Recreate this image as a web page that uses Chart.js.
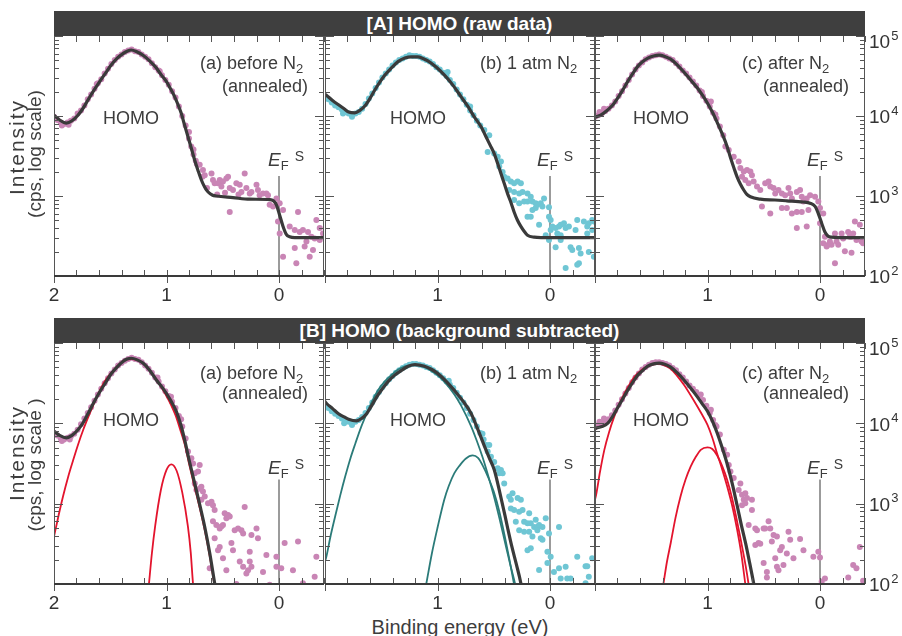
<!DOCTYPE html>
<html lang="en">
<head>
<meta charset="UTF-8" />
<title>HOMO spectra</title>
<script src="https://cdn.jsdelivr.net/npm/chart.js"></script>
<style>
  body { margin: 0; background: #fff; font-family: "Liberation Sans", Arial, sans-serif; color: #3d3d3d; }
  #page { position: relative; width: 902px; height: 636px; overflow: hidden; }
  canvas { position: absolute; }
  .bar { position: absolute; left: 54px; width: 811px; height: 25px; background: #3f3f3f; color: #fff;
         font-weight: bold; font-size: 19px; line-height: 25px; text-align: center; }
  .note { position: absolute; font-size: 18px; line-height: 20px; white-space: nowrap; }
  .note sub { font-size: 13px; vertical-align: -4px; line-height: 0; }
  .ef { position: absolute; font-size: 19px; line-height: 20px; white-space: nowrap; }
  .ef sub { font-size: 13px; vertical-align: -4px; line-height: 0; }
  .ef sup { font-size: 14px; vertical-align: 5px; line-height: 0; margin-left: 6px; }
  .ytitle { position: absolute; width: 200px; height: 22px; line-height: 22px; font-size: 19px;
            text-align: center; transform: rotate(-90deg); white-space: nowrap; }
  .wide { font-size: 21px; letter-spacing: 2px; }
  .xtitle { position: absolute; left: 0; width: 920px; text-align: center; font-size: 20px; line-height: 22px; }
</style>
</head>
<body>
<div id="page">
  <div class="bar" style="top:11px">[A] HOMO (raw data)</div>
  <div class="bar" style="top:318px">[B] HOMO (background subtracted)</div>

  <div class="ytitle wide" style="left:-83px; top:136px">Intensity</div>
  <div class="ytitle" style="left:-65px; top:143px">(cps, log scale)</div>
  <div class="ytitle wide" style="left:-83px; top:442px">Intensity</div>
  <div class="ytitle" style="left:-65px; top:454px">(cps, log scale )</div>

  <div class="note" style="left:200px; top:53px">(a) before N<sub>2</sub></div>
  <div class="note" style="left:222px; top:76px">(annealed)</div>
  <div class="note" style="left:103px; top:108px">HOMO</div>
  <div class="note" style="left:480px; top:53px">(b) 1 atm N<sub>2</sub></div>
  <div class="note" style="left:390px; top:108px">HOMO</div>
  <div class="note" style="left:742px; top:53px">(c) after N<sub>2</sub></div>
  <div class="note" style="left:763px; top:76px">(annealed)</div>
  <div class="note" style="left:633px; top:108px">HOMO</div>

  <div class="note" style="left:200px; top:363px">(a) before N<sub>2</sub></div>
  <div class="note" style="left:222px; top:383px">(annealed)</div>
  <div class="note" style="left:103px; top:410px">HOMO</div>
  <div class="note" style="left:480px; top:363px">(b) 1 atm N<sub>2</sub></div>
  <div class="note" style="left:390px; top:410px">HOMO</div>
  <div class="note" style="left:742px; top:363px">(c) after N<sub>2</sub></div>
  <div class="note" style="left:763px; top:383px">(annealed)</div>
  <div class="note" style="left:633px; top:410px">HOMO</div>

  <div class="ef" style="left:268px; top:150px"><i>E</i><sub>F</sub><sup>S</sup></div>
  <div class="ef" style="left:537px; top:150px"><i>E</i><sub>F</sub><sup>S</sup></div>
  <div class="ef" style="left:807px; top:150px"><i>E</i><sub>F</sub><sup>S</sup></div>
  <div class="ef" style="left:268px; top:458px"><i>E</i><sub>F</sub><sup>S</sup></div>
  <div class="ef" style="left:537px; top:458px"><i>E</i><sub>F</sub><sup>S</sup></div>
  <div class="ef" style="left:807px; top:458px"><i>E</i><sub>F</sub><sup>S</sup></div>

  <div class="xtitle" style="top:616px">Binding energy (eV)</div>
</div>

<script>
  // values: [binding energy (eV), log10 intensity (cps)]

  // ---- [A] raw data ----
  const fitRawA = [[2.0,4.01],[1.95,3.95],[1.89,3.91],[1.84,3.94],[1.787,4.01],[1.74,4.10],[1.698,4.2],[1.65,4.31],
    [1.594,4.43],[1.54,4.54],[1.49,4.64],[1.44,4.72],[1.387,4.78],[1.35,4.81],[1.313,4.825],[1.26,4.80],[1.209,4.76],
    [1.15,4.69],[1.09,4.6],[1.05,4.52],[1.0,4.43],[0.96,4.33],[0.927,4.24],[0.9,4.15],[0.868,4.03],[0.84,3.89],
    [0.809,3.74],[0.78,3.60],[0.75,3.45],[0.72,3.32],[0.69,3.2],[0.66,3.11],[0.63,3.05],[0.59,3.01],[0.557,3.0],
    [0.41,2.98],[0.261,2.96],[0.08,2.955],[0.05,2.94],[0.023,2.89],[-0.006,2.76],[-0.036,2.62],[-0.065,2.52],
    [-0.095,2.49],[-0.14,2.48],[-0.4,2.48]];
  const ptsRawA = [[2.0,3.99],[1.97,3.95],[1.94,3.92],[1.91,3.90],[1.88,3.92],[1.85,3.94],[1.82,3.97],[1.79,4.03],
    [1.76,4.07],[1.73,4.13],[1.70,4.21],[1.67,4.27],[1.64,4.34],[1.61,4.41],[1.58,4.46],[1.55,4.53],[1.52,4.59],
    [1.49,4.65],[1.46,4.70],[1.43,4.74],[1.40,4.77],[1.37,4.80],[1.34,4.82],[1.31,4.83],[1.28,4.81],[1.25,4.80],
    [1.22,4.77],[1.19,4.74],[1.16,4.71],[1.13,4.66],[1.10,4.61],[1.07,4.57],[1.04,4.51],[1.01,4.45],[0.98,4.39],
    [0.95,4.31],[0.92,4.23],[0.89,4.12],[0.86,4.00],[0.83,3.88],[0.80,3.72],[0.78,3.62],[0.76,3.52],[0.74,3.44],
    [0.80,3.80],[0.76,3.58],[0.73,3.40],[1.93,3.88],[1.87,3.89],[1.62,4.40],[1.06,4.56],
    [0.705,3.39],[0.676,3.325],[0.66,3.26],[0.60,3.28],[0.587,3.20],[0.572,3.16],[0.542,3.16],[0.527,3.20],
    [0.498,3.18],[0.468,3.22],[0.453,3.24],[0.512,3.12],[0.438,3.10],[0.409,3.075],[0.379,3.16],[0.349,3.14],
    [0.334,3.05],[0.305,3.28],[0.29,3.10],[0.26,3.03],[0.245,3.05],[0.20,3.14],[0.187,3.075],[0.172,3.01],
    [0.142,3.03],[0.112,3.03],[0.098,3.01],[0.083,2.89],[0.053,2.87],[0.023,2.97],[-0.006,2.91],[-0.036,2.825],
    [0.009,2.68],[-0.006,2.53],[-0.036,2.24],[-0.095,2.62],[-0.14,2.575],[-0.169,2.80],[-0.184,2.55],[-0.213,2.575],
    [-0.228,2.37],[-0.258,2.55],[-0.273,2.24],[-0.302,2.325],[-0.317,2.47],[-0.332,2.70],[-0.362,2.60],[-0.391,2.53],
    [-0.154,2.16],[-0.14,2.35],[0.438,2.80],[-0.244,2.43],[-0.288,2.49],[-0.362,2.45],[0.68,3.24],[0.64,3.10],
    [0.55,3.02],[0.48,3.04],[0.36,3.02]];

  const fitRawB = [[2.0,4.27],[1.988,4.26],[1.93,4.19],[1.88,4.14],[1.83,4.09],[1.79,4.05],[1.735,4.04],[1.69,4.07],
    [1.646,4.125],[1.60,4.22],[1.557,4.325],[1.51,4.43],[1.469,4.51],[1.41,4.60],[1.351,4.68],[1.29,4.725],[1.233,4.74],
    [1.174,4.74],[1.13,4.72],[1.086,4.69],[1.01,4.61],[0.938,4.51],[0.86,4.38],[0.79,4.24],[0.73,4.12],[0.673,3.99],
    [0.61,3.86],[0.569,3.74],[0.53,3.63],[0.496,3.53],[0.466,3.41],[0.436,3.28],[0.405,3.15],[0.377,3.03],[0.345,2.91],
    [0.319,2.80],[0.29,2.70],[0.259,2.62],[0.23,2.56],[0.2,2.51],[0.14,2.485],[0.08,2.48],[-0.4,2.48]];
  const ptsRawB = [[2.0,4.24],[1.97,4.21],[1.94,4.17],[1.91,4.13],[1.88,4.11],[1.85,4.08],[1.82,4.05],[1.79,4.03],
    [1.76,4.02],[1.73,4.03],[1.70,4.05],[1.67,4.09],[1.64,4.15],[1.61,4.22],[1.58,4.28],[1.55,4.35],[1.52,4.42],
    [1.49,4.48],[1.46,4.53],[1.43,4.58],[1.40,4.63],[1.37,4.67],[1.34,4.70],[1.31,4.72],[1.28,4.74],[1.25,4.76],
    [1.22,4.75],[1.19,4.75],[1.16,4.74],[1.13,4.72],[1.10,4.70],[1.07,4.68],[1.04,4.65],[1.01,4.61],[0.98,4.58],
    [0.95,4.54],[0.92,4.50],[0.89,4.45],[0.86,4.40],[0.83,4.33],[0.80,4.27],[0.77,4.21],[0.74,4.14],[0.71,4.07],
    [0.68,4.01],[0.65,3.94],[0.62,3.88],[1.84,4.03],[1.76,3.99],[0.91,4.55],[0.71,4.12],
    [0.584,3.825],[0.54,3.76],[0.554,3.55],[0.496,3.53],[0.465,3.49],[0.436,3.43],[0.451,3.37],[0.421,3.30],
    [0.407,3.24],[0.377,3.22],[0.348,3.18],[0.319,3.16],[0.288,3.18],[0.259,3.16],[0.363,3.075],[0.319,3.05],
    [0.274,3.03],[0.244,3.05],[0.2,3.03],[0.171,2.99],[0.319,2.95],[0.274,2.91],[0.23,2.93],[0.2,2.93],[0.156,2.93],
    [0.127,2.91],[0.112,2.89],[0.082,2.91],[0.067,2.87],[0.127,2.85],[0.156,2.825],[0.053,2.97],[0.009,2.86],
    [0.2,2.74],[0.171,2.74],[0.097,2.64],[0.009,2.74],[-0.006,2.70],[-0.021,2.62],[-0.05,2.60],[-0.08,2.62],
    [-0.095,2.64],[-0.124,2.66],[-0.139,2.60],[-0.168,2.62],[-0.227,2.575],[-0.242,2.70],[-0.301,2.68],[-0.331,2.62],
    [-0.345,2.66],[-0.375,2.70],[-0.39,2.68],[0.009,2.45],[-0.05,2.36],[-0.095,2.45],[-0.183,2.36],[-0.198,2.325],
    [-0.257,2.35],[-0.257,2.16],[-0.242,2.14],[-0.272,2.28],[-0.345,2.30],[-0.39,2.24],[-0.139,2.10],[-0.065,2.53],
    [-0.006,2.575],[0.038,2.51],[-0.331,2.53],[-0.375,2.575],[-0.095,2.51]];

  const fitRawC = [[2.0,3.985],[1.95,4.01],[1.888,4.075],[1.84,4.14],[1.80,4.22],[1.755,4.32],[1.71,4.43],[1.665,4.53],
    [1.62,4.62],[1.575,4.68],[1.534,4.72],[1.48,4.75],[1.43,4.76],[1.38,4.745],[1.327,4.71],[1.27,4.64],[1.21,4.55],
    [1.15,4.45],[1.09,4.35],[1.045,4.26],[1.0,4.16],[0.957,4.05],[0.914,3.92],[0.87,3.78],[0.826,3.62],[0.796,3.48],
    [0.765,3.35],[0.737,3.24],[0.708,3.15],[0.678,3.075],[0.65,3.02],[0.619,2.99],[0.531,2.96],[0.40,2.95],[0.295,2.94],
    [0.15,2.925],[0.088,2.91],[0.044,2.87],[0.015,2.78],[-0.015,2.66],[-0.044,2.55],[-0.07,2.50],[-0.1,2.485],
    [-0.177,2.48],[-0.4,2.48]];
  const ptsRawC = [[2.0,3.99],[1.97,4.01],[1.94,4.03],[1.91,4.06],[1.88,4.09],[1.85,4.13],[1.82,4.18],[1.79,4.25],
    [1.76,4.31],[1.73,4.38],[1.70,4.45],[1.67,4.52],[1.64,4.58],[1.61,4.63],[1.58,4.67],[1.55,4.71],[1.52,4.73],
    [1.49,4.75],[1.46,4.76],[1.43,4.77],[1.40,4.76],[1.37,4.74],[1.34,4.72],[1.31,4.70],[1.28,4.66],[1.25,4.62],
    [1.22,4.57],[1.19,4.53],[1.16,4.48],[1.13,4.43],[1.10,4.38],[1.07,4.32],[1.04,4.25],[1.01,4.19],[0.98,4.12],
    [0.95,4.04],[0.92,3.97],[0.89,3.87],[0.86,3.76],[1.96,4.05],[1.92,4.09],[1.05,4.30],[0.97,4.18],[0.93,4.02],
    [0.841,3.62],[0.811,3.575],[0.767,3.49],[0.723,3.43],[0.708,3.35],[0.678,3.305],[0.649,3.325],[0.619,3.305],
    [0.605,3.26],[0.693,3.24],[0.664,3.20],[0.634,3.16],[0.59,3.18],[0.56,3.12],[0.531,3.075],[0.487,3.16],
    [0.457,3.18],[0.442,3.12],[0.413,3.10],[0.398,3.03],[0.369,3.075],[0.339,3.03],[0.31,3.01],[0.28,3.10],
    [0.265,3.03],[0.25,2.97],[0.206,3.05],[0.177,3.075],[0.162,2.99],[0.148,2.93],[0.118,2.97],[0.088,3.01],
    [0.044,2.99],[0.015,2.93],[0.0,2.85],[-0.029,2.78],[0.442,2.78],[0.516,2.87],[0.339,2.85],[0.295,2.85],
    [0.25,2.78],[0.206,2.80],[0.162,2.80],[0.103,2.825],[0.206,2.60],[0.118,2.62],[0.0,2.66],[-0.044,2.49],
    [-0.029,2.41],[-0.088,2.43],[-0.133,2.53],[-0.147,2.43],[-0.162,2.39],[-0.192,2.53],[-0.206,2.47],[-0.221,2.31],
    [-0.25,2.55],[-0.265,2.49],[-0.28,2.29],[-0.295,2.53],[-0.31,2.68],[-0.324,2.45],[-0.354,2.64],[-0.369,2.43],
    [-0.383,2.41],[-0.133,2.16],[-0.103,2.39],[-0.074,2.39],[-0.059,2.37],[-0.28,2.49]];

  // ---- [B] background subtracted ----
  const fitSubA = [[2.0,3.90],[1.95,3.85],[1.89,3.82],[1.84,3.85],[1.787,3.92],[1.74,4.01],[1.698,4.12],[1.65,4.25],
    [1.594,4.39],[1.54,4.51],[1.49,4.62],[1.44,4.70],[1.387,4.77],[1.35,4.80],[1.313,4.81],[1.26,4.79],[1.209,4.75],
    [1.15,4.66],[1.09,4.54],[1.045,4.46],[1.0,4.37],[0.957,4.27],[0.913,4.15],[0.87,3.97],[0.838,3.79],[0.80,3.55],
    [0.749,3.25],[0.70,2.96],[0.66,2.71],[0.615,2.38],[0.572,2.01],[0.54,1.75]];
  const compSubA1 = [[2.0,2.59],[1.96,2.85],[1.92,3.09],[1.875,3.33],[1.83,3.54],[1.785,3.74],[1.74,3.92],[1.695,4.08],
    [1.65,4.23],[1.605,4.37],[1.56,4.50],[1.515,4.59],[1.47,4.66],[1.43,4.72],[1.39,4.77],[1.35,4.795],[1.31,4.80],
    [1.26,4.785],[1.21,4.75],[1.15,4.66],[1.09,4.55],[1.045,4.45],[1.0,4.34],[0.96,4.23],[0.92,4.10],[0.88,3.93],
    [0.838,3.74],[0.80,3.50],[0.749,3.2],[0.70,2.92],[0.66,2.67],[0.615,2.34],[0.572,1.98],[0.54,1.75]];
  const compSubA2 = [[1.18,1.65],[1.156,2.0],[1.13,2.38],[1.10,2.73],[1.05,3.17],[1.0,3.42],[0.957,3.49],[0.91,3.41],
    [0.86,3.14],[0.81,2.72],[0.785,2.40],[0.764,2.0],[0.74,1.7]];
  const ptsSubA = [[2.0,3.88],[1.97,3.85],[1.94,3.81],[1.91,3.80],[1.88,3.82],[1.85,3.84],[1.82,3.87],[1.79,3.92],
    [1.76,3.99],[1.73,4.06],[1.70,4.13],[1.67,4.20],[1.64,4.28],[1.61,4.36],[1.58,4.43],[1.55,4.50],[1.52,4.56],
    [1.49,4.62],[1.46,4.67],[1.43,4.72],[1.40,4.75],[1.37,4.78],[1.34,4.80],[1.31,4.815],[1.28,4.80],[1.25,4.79],
    [1.22,4.76],[1.19,4.72],[1.16,4.68],[1.13,4.63],[1.10,4.57],[1.07,4.52],[1.04,4.46],[1.01,4.40],[0.98,4.34],
    [0.95,4.27],[0.92,4.19],[0.89,4.09],[0.86,3.96],[0.83,3.81],[1.93,3.78],[1.86,3.80],[1.08,4.57],[0.96,4.33],
    [0.87,4.05],
    [0.809,3.65],[0.779,3.565],[0.764,3.50],[0.749,3.38],[0.749,3.25],[0.734,3.17],[0.705,3.19],[0.69,3.21],
    [0.676,3.15],[0.66,3.09],[0.69,3.05],[0.631,3.005],[0.60,3.025],[0.587,2.98],[0.572,2.92],[0.483,2.88],
    [0.453,2.86],[0.468,2.82],[0.438,2.84],[0.587,2.78],[0.557,2.735],[0.527,2.69],[0.512,2.715],[0.498,2.735],
    [0.394,2.67],[0.364,2.69],[0.334,2.67],[0.319,2.63],[0.245,2.61],[0.20,2.69],[0.187,2.57],[0.305,2.96],
    [0.572,2.57],[0.527,2.46],[0.542,2.42],[0.423,2.51],[0.409,2.42],[0.26,2.40],[0.498,2.32],[0.349,2.28],
    [0.26,2.28],[0.319,2.215],[0.275,2.17],[0.29,2.13],[0.245,2.215],[0.112,2.36],[0.023,2.34],[0.023,2.215],
    [-0.02,2.195],[-0.05,2.51],[-0.169,2.53],[-0.332,2.34],[-0.124,2.17],[0.142,2.15],[0.379,2.0],[0.083,1.99],
    [-0.213,2.01],[-0.317,2.09],[0.468,2.17],[0.616,2.195],[0.705,3.48],[0.72,3.40]];

  const fitSubB = [[2.0,4.27],[1.988,4.25],[1.93,4.18],[1.88,4.12],[1.83,4.08],[1.79,4.05],[1.72,4.03],[1.675,4.06],
    [1.63,4.12],[1.585,4.22],[1.54,4.33],[1.49,4.43],[1.44,4.52],[1.38,4.60],[1.32,4.66],[1.26,4.71],[1.20,4.73],
    [1.115,4.71],[1.05,4.67],[0.997,4.62],[0.92,4.52],[0.85,4.41],[0.775,4.28],[0.70,4.12],[0.643,3.93],[0.584,3.72],
    [0.54,3.57],[0.495,3.42],[0.44,3.10],[0.40,2.85],[0.377,2.70],[0.34,2.47],[0.30,2.25],[0.259,2.01],[0.24,1.85]];
  const compSubB1 = [[2.0,2.28],[1.988,2.34],[1.95,2.60],[1.91,2.84],[1.865,3.10],[1.82,3.34],[1.775,3.56],[1.73,3.75],
    [1.68,3.95],[1.63,4.12],[1.58,4.28],[1.53,4.41],[1.47,4.52],[1.41,4.60],[1.35,4.67],[1.29,4.71],[1.20,4.73],
    [1.115,4.70],[1.086,4.68],[1.01,4.61],[0.94,4.52],[0.85,4.36],[0.79,4.22],[0.70,3.96],[0.65,3.78],[0.60,3.58],
    [0.55,3.35],[0.50,3.10],[0.45,2.82],[0.40,2.52],[0.355,2.25],[0.31,2.0],[0.29,1.85]];
  const compSubB2 = [[1.12,1.85],[1.10,2.0],[1.05,2.38],[1.0,2.70],[0.94,3.05],[0.90,3.22],[0.85,3.38],[0.80,3.48],
    [0.75,3.56],[0.687,3.60],[0.64,3.57],[0.60,3.48],[0.55,3.33],[0.50,3.15],[0.45,2.90],[0.40,2.58],[0.36,2.30],
    [0.32,2.0],[0.30,1.85]];
  const ptsSubB = [[2.0,4.23],[1.97,4.19],[1.94,4.15],[1.91,4.12],[1.88,4.09],[1.85,4.06],[1.82,4.04],[1.79,4.02],
    [1.76,4.01],[1.73,4.02],[1.70,4.04],[1.67,4.08],[1.64,4.13],[1.61,4.19],[1.58,4.26],[1.55,4.33],[1.52,4.39],
    [1.49,4.45],[1.46,4.50],[1.43,4.55],[1.40,4.59],[1.37,4.63],[1.34,4.66],[1.31,4.69],[1.28,4.71],[1.25,4.73],
    [1.22,4.74],[1.19,4.74],[1.16,4.73],[1.13,4.72],[1.10,4.70],[1.07,4.69],[1.04,4.66],[1.01,4.63],[0.98,4.60],
    [0.95,4.56],[0.92,4.52],[0.89,4.48],[0.86,4.44],[0.83,4.38],[0.80,4.32],[0.77,4.26],[0.74,4.19],[0.71,4.12],
    [0.68,4.04],[0.65,3.96],[0.62,3.88],[0.59,3.80],[1.83,4.00],[1.76,3.98],[0.90,4.53],[0.60,3.87],
    [0.569,3.73],[0.54,3.73],[0.554,3.65],[0.525,3.585],[0.496,3.52],[0.465,3.44],[0.436,3.42],[0.451,3.38],
    [0.421,3.38],[0.407,3.25],[0.363,3.09],[0.333,3.13],[0.348,3.05],[0.288,3.07],[0.259,3.05],[0.348,2.94],
    [0.319,2.92],[0.274,2.90],[0.244,2.92],[0.185,2.88],[0.304,2.775],[0.23,2.775],[0.2,2.755],[0.171,2.755],
    [0.127,2.80],[0.038,2.82],[0.141,2.71],[0.112,2.71],[0.097,2.735],[0.067,2.71],[0.112,2.67],[0.274,2.67],
    [0.23,2.65],[0.185,2.65],[0.156,2.59],[0.082,2.57],[0.067,2.55],[-0.08,2.71],[0.009,2.63],[0.171,2.445],
    [0.2,2.42],[0.023,2.40],[-0.006,2.34],[0.023,2.26],[0.097,2.175],[-0.035,2.15],[-0.08,2.195],[-0.139,2.215],
    [-0.095,2.07],[-0.153,2.07],[-0.183,2.07],[-0.242,2.34],[-0.316,2.22],[-0.331,2.22],[-0.375,2.32],[-0.345,2.09],
    [-0.316,2.01]];

  const fitSubC = [[2.0,3.935],[1.99,3.94],[1.94,3.96],[1.888,4.0],[1.845,4.08],[1.80,4.19],[1.755,4.30],[1.71,4.41],
    [1.665,4.51],[1.62,4.60],[1.575,4.66],[1.534,4.71],[1.48,4.74],[1.43,4.75],[1.38,4.735],[1.327,4.70],[1.27,4.63],
    [1.21,4.54],[1.15,4.44],[1.09,4.33],[1.045,4.24],[1.0,4.15],[0.957,4.03],[0.914,3.88],[0.87,3.70],[0.826,3.50],
    [0.78,3.25],[0.737,2.98],[0.70,2.74],[0.66,2.50],[0.625,2.26],[0.59,2.01],[0.57,1.85]];
  const compSubC1 = [[2.0,3.05],[1.99,3.11],[1.955,3.40],[1.917,3.67],[1.875,3.89],[1.83,4.08],[1.785,4.24],[1.74,4.37],
    [1.695,4.48],[1.65,4.58],[1.59,4.66],[1.534,4.71],[1.48,4.735],[1.43,4.74],[1.38,4.72],[1.327,4.68],[1.27,4.59],
    [1.21,4.48],[1.15,4.35],[1.09,4.21],[1.045,4.10],[1.0,3.98],[0.957,3.82],[0.914,3.62],[0.87,3.43],[0.826,3.22],
    [0.78,2.97],[0.737,2.68],[0.70,2.38],[0.664,2.0],[0.65,1.85]];
  const compSubC2 = [[1.41,1.85],[1.392,2.0],[1.36,2.28],[1.327,2.51],[1.285,2.82],[1.24,3.09],[1.195,3.30],[1.15,3.46],
    [1.105,3.58],[1.06,3.67],[1.0,3.70],[0.957,3.68],[0.914,3.60],[0.87,3.47],[0.826,3.30],[0.78,3.06],[0.737,2.78],
    [0.70,2.52],[0.66,2.22],[0.635,2.0],[0.62,1.85]];
  const ptsSubC = [[2.0,3.95],[1.97,3.98],[1.94,4.01],[1.91,4.03],[1.88,4.05],[1.85,4.10],[1.82,4.16],[1.79,4.23],
    [1.76,4.30],[1.73,4.37],[1.70,4.44],[1.67,4.51],[1.64,4.57],[1.61,4.62],[1.58,4.67],[1.55,4.70],[1.52,4.73],
    [1.49,4.75],[1.46,4.76],[1.43,4.76],[1.40,4.75],[1.37,4.74],[1.34,4.72],[1.31,4.69],[1.28,4.66],[1.25,4.61],
    [1.22,4.57],[1.19,4.52],[1.16,4.47],[1.13,4.43],[1.10,4.39],[1.07,4.35],[1.04,4.29],[1.01,4.22],[0.98,4.13],
    [0.95,4.04],[0.92,3.96],[0.89,3.86],[1.96,4.02],[1.92,4.06],[1.06,4.36],[0.97,4.17],[0.93,3.98],
    [0.855,3.67],[0.826,3.61],[0.811,3.48],[0.796,3.40],[0.767,3.32],[0.708,3.25],[0.723,3.17],[0.693,3.11],
    [0.664,3.13],[0.678,3.05],[0.649,3.07],[0.605,3.05],[0.693,2.98],[0.664,3.005],[0.605,2.92],[0.634,2.735],
    [0.575,2.69],[0.56,2.67],[0.501,2.69],[0.457,2.78],[0.442,2.69],[0.487,2.69],[0.413,2.61],[0.383,2.59],
    [0.428,2.53],[0.339,2.46],[0.28,2.65],[0.265,2.55],[0.177,2.56],[0.575,2.485],[0.546,2.51],[0.531,2.50],
    [0.501,2.26],[0.398,2.32],[0.354,2.42],[0.295,2.38],[0.236,2.32],[0.147,2.42],[0.059,2.34],[0.015,2.40],
    [0.0,2.33],[0.325,2.235],[0.383,2.215],[0.369,2.17],[0.472,2.15],[0.472,2.08],[-0.015,2.03],[-0.044,2.07],
    [-0.251,2.08],[-0.295,2.235],[-0.324,2.195],[-0.354,2.46],[-0.383,2.04]];

  // Fermi level marker (x = 0), axis decades and labelled energies
  const efLineTop = [[0, 2], [0, 3.25]];
  const efLineBottom = [[0, 2], [0, 3.30]];
  const yDecades = [2, 3, 4, 5];
  const xLabelsFirst = [2, 1, 0];
  const xLabelsOther = [1, 0];

  const PINK = '#c985b5', CYAN = '#6fc6d4', DARK = '#3a3a3a', RED = '#e3142d', TEAL = '#2b7b79', GREY = '#7a7a7a';

  const toXY = pairs => pairs.map(p => ({ x: p[0], y: p[1] }));

  const lineSet = (pairs, color, width) => ({
    data: toXY(pairs), showLine: true, borderColor: color, borderWidth: width,
    pointRadius: 0, cubicInterpolationMode: 'monotone', fill: false, clip: 0
  });
  const dotSet = (pairs, color) => ({
    data: toXY(pairs), showLine: false, pointRadius: 3, pointBorderWidth: 0,
    pointBackgroundColor: color, backgroundColor: color, borderColor: color, clip: 0
  });
  const efSet = pairs => ({
    data: toXY(pairs), showLine: true, borderColor: GREY, borderWidth: 1.5,
    pointRadius: 0, tension: 0, clip: 0
  });

  // inward ticks, frame, tick labels
  const axisFrame = {
    id: 'axisFrame',
    afterDatasetsDraw(chart, args, opts) {
      const { ctx, chartArea: a, scales: { x, y } } = chart;
      ctx.save();
      ctx.strokeStyle = '#555';
      ctx.lineWidth = 1;
      ctx.beginPath();
      ctx.moveTo(a.left + 0.5, a.top); ctx.lineTo(a.left + 0.5, a.bottom);
      ctx.moveTo(a.right - 0.5, a.top); ctx.lineTo(a.right - 0.5, a.bottom);
      for (let d = 2; d <= 5; d++) {
        for (let k = 1; k <= 9; k++) {
          if (d === 5 && k > 1) break;
          const py = Math.round(y.getPixelForValue(d + Math.log10(k))) + 0.5;
          const len = k === 1 ? 9 : 5;
          ctx.moveTo(a.left, py); ctx.lineTo(a.left + len, py);
          ctx.moveTo(a.right, py); ctx.lineTo(a.right - len, py);
        }
      }
      for (let i = -2; i <= 10; i++) {
        const px = Math.round(x.getPixelForValue(i / 5)) + 0.5;
        ctx.moveTo(px, a.top); ctx.lineTo(px, a.top + 6);
        ctx.moveTo(px, a.bottom); ctx.lineTo(px, a.bottom - 6);
        if (i % 5 === 0) { ctx.moveTo(px, a.bottom); ctx.lineTo(px, a.bottom + 7); }
      }
      ctx.stroke();

      ctx.strokeStyle = DARK;
      ctx.lineWidth = 2;
      ctx.beginPath();
      ctx.moveTo(a.left, a.bottom); ctx.lineTo(a.right, a.bottom);
      ctx.stroke();

      ctx.fillStyle = '#333';
      ctx.font = '19px "Liberation Sans", Arial, sans-serif';
      ctx.textAlign = 'center';
      ctx.textBaseline = 'middle';
      opts.xLabels.forEach(v => ctx.fillText(String(v), x.getPixelForValue(v), a.bottom + 20));

      if (opts.yLabels) {
        ctx.textAlign = 'left';
        yDecades.forEach(d => {
          const py = y.getPixelForValue(d) + (d === 5 ? 7 : 2);
          const x0 = a.right + 4;
          ctx.font = '19px "Liberation Sans", Arial, sans-serif';
          ctx.fillText('10', x0, py);
          const w = ctx.measureText('10').width;
          ctx.font = '13px "Liberation Sans", Arial, sans-serif';
          ctx.fillText(String(d), x0 + w + 1, py - 7);
        });
      }
      ctx.restore();
    }
  };

  const colLeft = [54, 325, 595];
  const rowTop = [36, 343];
  const rowHeight = [240, 241];
  const PW = 270, PL = 30, PR = 45, PT = 8, PB = 32;

  const panels = [
    { row: 0, col: 0, lines: [[fitRawA, DARK, 3.2]], pts: ptsRawA, color: PINK, ef: efLineTop },
    { row: 0, col: 1, lines: [[fitRawB, DARK, 3.2]], pts: ptsRawB, color: CYAN, ef: efLineTop },
    { row: 0, col: 2, lines: [[fitRawC, DARK, 3.2]], pts: ptsRawC, color: PINK, ef: efLineTop },
    { row: 1, col: 0, lines: [[fitSubA, DARK, 3.2], [compSubA1, RED, 1.8], [compSubA2, RED, 1.8]], pts: ptsSubA, color: PINK, ef: efLineBottom },
    { row: 1, col: 1, lines: [[fitSubB, DARK, 3.2], [compSubB1, TEAL, 1.8], [compSubB2, TEAL, 1.8]], pts: ptsSubB, color: CYAN, ef: efLineBottom },
    { row: 1, col: 2, lines: [[fitSubC, DARK, 3.2], [compSubC1, RED, 1.8], [compSubC2, RED, 1.8]], pts: ptsSubC, color: PINK, ef: efLineBottom }
  ];

  const page = document.getElementById('page');
  panels.forEach(p => {
    const cv = document.createElement('canvas');
    cv.width = PW + PL + PR;
    cv.height = rowHeight[p.row] + PT + PB;
    cv.style.left = (colLeft[p.col] - PL) + 'px';
    cv.style.top = (rowTop[p.row] - PT) + 'px';
    page.insertBefore(cv, page.firstChild);

    const datasets = p.lines.map(l => lineSet(l[0], l[1], l[2]));
    datasets.push(dotSet(p.pts, p.color));
    datasets.push(efSet(p.ef));

    new Chart(cv.getContext('2d'), {
      type: 'scatter',
      data: { datasets },
      options: {
        responsive: false,
        animation: false,
        events: [],
        layout: { padding: { left: PL, right: PR, top: PT, bottom: PB } },
        plugins: {
          legend: { display: false },
          tooltip: { enabled: false },
          axisFrame: { xLabels: p.col === 0 ? xLabelsFirst : xLabelsOther, yLabels: p.col === 2 }
        },
        scales: {
          x: { type: 'linear', reverse: true, min: -0.4, max: 2.0, display: false },
          y: { type: 'linear', min: 2, max: 5, display: false }
        }
      },
      plugins: [axisFrame]
    });
  });
</script>
</body>
</html>
